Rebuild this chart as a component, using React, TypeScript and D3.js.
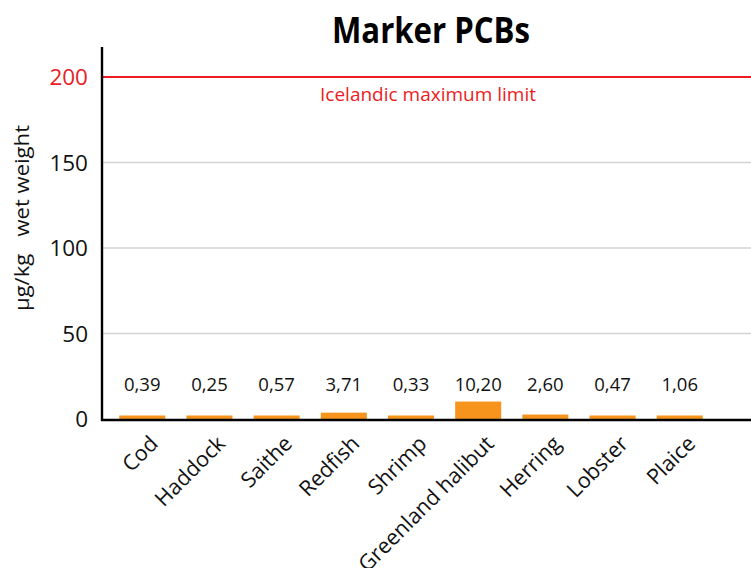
import React from "react";
import * as d3 from "d3";

// Marker PCB concentrations per species (µg/kg wet weight)
const species = ["Cod", "Haddock", "Saithe", "Redfish", "Shrimp", "Greenland halibut", "Herring", "Lobster", "Plaice"];
const values = [0.39, 0.25, 0.57, 3.71, 0.33, 10.2, 2.6, 0.47, 1.06];
const valueLabels = ["0,39", "0,25", "0,57", "3,71", "0,33", "10,20", "2,60", "0,47", "1,06"];
const yTicks = [0, 50, 100, 150, 200];
const limitValue = 200;
const limitLabel = "Icelandic maximum limit";

const W = 751;
const H = 568;
const FONT = "'Open Sans', 'Noto Sans', sans-serif";
const ORANGE = "#F7941D";
const RED = "#ED1C24";

export default function App() {
  const axisX = 102;
  const x = d3.scaleBand<string>().domain(species).range([axisX, 720]).paddingInner(0.315).paddingOuter(0.257);
  const y = d3.scaleLinear().domain([0, 200]).range([419, 77]);
  const base = y(0);

  return (
    <svg width={W} height={H} style={{ position: "absolute", left: 0, top: 0, background: "#fff" }} fontFamily={FONT}>
      {/* title */}
      <text x={431} y={43} textAnchor="middle" fontSize={36} fontWeight={700} textLength={198} lengthAdjust="spacingAndGlyphs" fill="#000">
        Marker PCBs
      </text>

      {/* gridlines */}
      {yTicks.filter((t) => t > 0 && t < limitValue).map((t) => (
        <line key={t} x1={axisX} x2={W} y1={y(t)} y2={y(t)} stroke="#d2d2d2" strokeWidth={1.6} />
      ))}

      {/* limit line */}
      <line x1={axisX} x2={W} y1={y(limitValue)} y2={y(limitValue)} stroke={RED} strokeWidth={2} />
      <text x={428} y={y(limitValue) + 24} textAnchor="middle" fontSize={19} fill={RED}>
        {limitLabel}
      </text>

      {/* y tick labels */}
      {yTicks.map((t) => (
        <text key={t} x={88} y={y(t)} dy="0.36em" textAnchor="end" fontSize={22.5} fill={t === limitValue ? RED : "#111"}>
          {t}
        </text>
      ))}

      {/* y axis title */}
      <text
        transform={`translate(29,218) rotate(-90)`}
        textAnchor="middle"
        fontSize={20}
        textLength={186}
        lengthAdjust="spacingAndGlyphs"
        fill="#111"
        style={{ whiteSpace: "pre" }}
      >
        {"µg/kg   wet weight"}
      </text>

      {/* bars */}
      {species.map((s, i) => {
        const h = Math.max(base - y(values[i]), 3.5);
        return <rect key={s} x={x(s)} y={base - h} width={x.bandwidth()} height={h + 1} fill={ORANGE} />;
      })}

      {/* value labels */}
      {species.map((s, i) => (
        <text key={s} x={(x(s) ?? 0) + x.bandwidth() / 2} y={391} textAnchor="middle" fontSize={18.5} fill="#111">
          {valueLabels[i]}
        </text>
      ))}

      {/* axes */}
      <line x1={axisX} x2={axisX} y1={47} y2={421} stroke="#000" strokeWidth={2.4} />
      <line x1={axisX - 1} x2={W} y1={420} y2={420} stroke="#000" strokeWidth={2.4} />

      {/* category labels */}
      {species.map((s) => {
        const cx = (x(s) ?? 0) + x.bandwidth() / 2 + 17;
        return (
          <text key={s} transform={`translate(${cx},445) rotate(-45)`} textAnchor="end" fontSize={21.5} fill="#111">
            {s}
          </text>
        );
      })}
    </svg>
  );
}
